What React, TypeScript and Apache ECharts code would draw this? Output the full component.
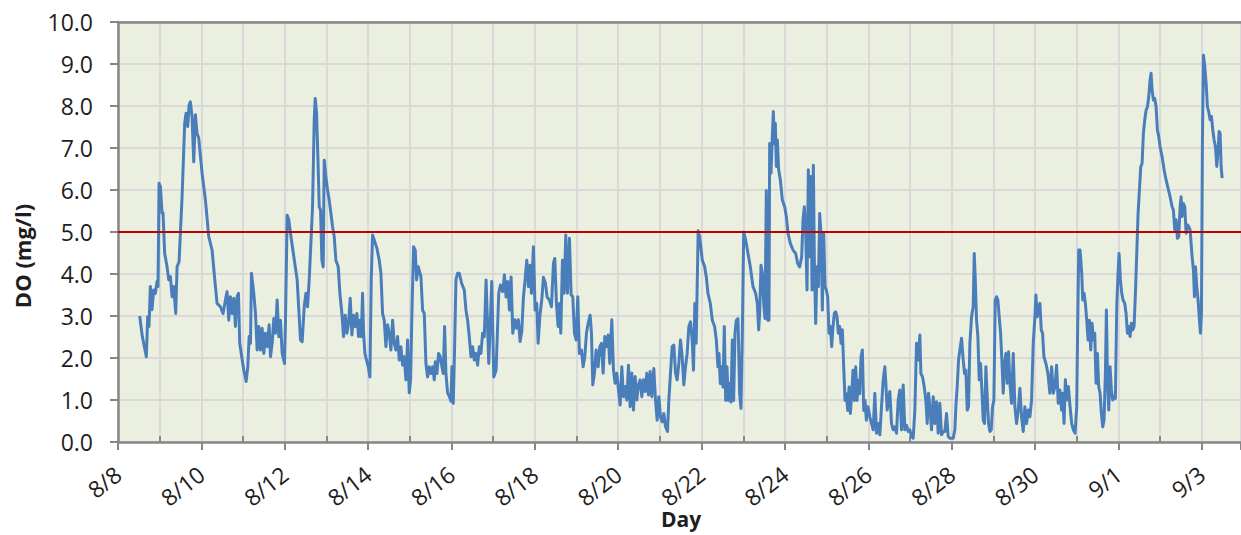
import React, { useEffect, useRef } from "react";
import * as echarts from "echarts";

// Tick labels for the x axis (every second day, starting 8/8)
const dayTickLabels = ["8/8", "8/10", "8/12", "8/14", "8/16", "8/18", "8/20", "8/22", "8/24", "8/26", "8/28", "8/30", "9/1", "9/3"];
const DO_STANDARD = 5.0;
const X_MAX_DAYS = 26.94;

// Readings: [days since 8/8 00:00, DO mg/l]
const readingsAug8to12: [number, number][] = [
  [0.52, 3.0], [0.584, 2.51], [0.68, 2.03], [0.712, 2.98], [0.744, 2.75], [0.776, 3.7], [0.816, 3.15], [0.857, 3.62],
  [0.897, 3.54], [0.936, 3.82], [0.96, 3.7], [0.985, 6.16], [1.017, 6.08], [1.057, 5.45], [1.08, 5.45], [1.12, 4.49],
  [1.177, 4.17], [1.217, 3.86], [1.257, 3.94], [1.297, 3.46], [1.337, 3.7], [1.385, 3.06], [1.417, 4.17], [1.465, 4.29],
  [1.537, 5.84], [1.6, 7.59], [1.633, 7.83], [1.673, 7.51], [1.705, 8.02], [1.737, 8.1], [1.777, 7.74], [1.817, 6.67],
  [1.857, 7.79], [1.897, 7.35], [1.937, 7.23], [2.017, 6.4], [2.097, 5.76], [2.177, 4.89], [2.257, 4.57], [2.337, 3.7],
  [2.377, 3.3], [2.457, 3.22], [2.52, 3.06], [2.577, 3.38], [2.617, 3.58], [2.657, 2.9], [2.697, 3.46], [2.737, 3.06],
  [2.777, 3.42], [2.817, 2.75], [2.857, 3.46], [2.89, 3.54], [2.92, 2.35], [2.962, 2.07], [3.018, 1.71], [3.074, 1.44],
  [3.114, 1.79], [3.146, 2.51], [3.178, 2.35], [3.202, 4.02], [3.258, 3.54], [3.298, 3.06], [3.338, 2.19], [3.378, 2.75],
  [3.418, 2.19], [3.458, 2.71], [3.498, 2.11], [3.538, 2.59], [3.578, 2.27], [3.626, 2.79], [3.658, 2.03], [3.698, 2.35],
  [3.738, 2.94], [3.778, 2.59], [3.818, 3.38], [3.858, 2.51], [3.898, 2.9], [3.938, 2.11], [3.994, 1.87], [4.018, 2.9],
  [4.058, 5.4], [4.098, 5.29], [4.138, 4.97], [4.218, 4.41], [4.298, 3.86], [4.338, 3.14], [4.378, 2.43], [4.418, 2.39],
];

const readingsAug12to17: [number, number][] = [
  [4.467, 3.22], [4.507, 3.54], [4.547, 3.22], [4.587, 3.86], [4.627, 4.73], [4.667, 5.6], [4.707, 7.67], [4.731, 8.18],
  [4.763, 7.83], [4.795, 6.79], [4.827, 5.6], [4.859, 5.52], [4.891, 4.33], [4.923, 4.17], [4.947, 6.71], [4.987, 6.32],
  [5.027, 6.0], [5.067, 5.76], [5.107, 5.45], [5.147, 5.13], [5.187, 4.89], [5.227, 4.33], [5.283, 4.17], [5.323, 3.54],
  [5.371, 3.06], [5.411, 2.51], [5.451, 3.02], [5.491, 2.59], [5.531, 2.83], [5.571, 3.42], [5.611, 2.55], [5.651, 3.02],
  [5.691, 2.75], [5.731, 3.06], [5.771, 2.51], [5.811, 2.9], [5.835, 2.51], [5.867, 3.54], [5.891, 2.59], [5.923, 2.11],
  [5.963, 1.95], [6.003, 1.79], [6.043, 1.55], [6.075, 3.86], [6.107, 4.93], [6.147, 4.81], [6.211, 4.61], [6.267, 4.33],
  [6.307, 4.02], [6.347, 3.06], [6.387, 2.9], [6.427, 2.27], [6.467, 2.79], [6.507, 2.59], [6.547, 2.19], [6.587, 2.9],
  [6.627, 2.35], [6.667, 2.19], [6.707, 2.51], [6.747, 1.95], [6.787, 2.27], [6.827, 1.83], [6.867, 2.03], [6.907, 1.48],
  [6.947, 2.43], [6.987, 1.17], [7.019, 1.48], [7.051, 3.06], [7.091, 4.65], [7.131, 4.57], [7.163, 3.86], [7.203, 4.17],
  [7.267, 3.94], [7.307, 3.14], [7.347, 3.06], [7.387, 1.87], [7.427, 1.55], [7.467, 1.79], [7.507, 1.63], [7.547, 1.79],
  [7.587, 1.48], [7.611, 1.91], [7.651, 1.63], [7.691, 2.11], [7.731, 2.03], [7.771, 1.79], [7.803, 1.63], [7.835, 2.75],
  [7.867, 1.63], [7.907, 1.17], [7.947, 1.09], [7.987, 0.97], [8.011, 1.79], [8.043, 0.92], [8.075, 2.27], [8.107, 3.86],
  [8.147, 4.02], [8.187, 4.02], [8.243, 3.78], [8.307, 3.62], [8.347, 3.14], [8.387, 2.9], [8.427, 2.51], [8.467, 2.03],
  [8.507, 2.27], [8.547, 1.95], [8.587, 2.11], [8.627, 1.83], [8.667, 2.27], [8.707, 2.11], [8.747, 2.59], [8.787, 2.51],
];

const readingsAug17to22: [number, number][] = [
  [8.83, 3.86], [8.894, 1.87], [8.966, 3.82], [9.014, 1.55], [9.07, 1.71], [9.134, 3.54], [9.174, 3.74], [9.23, 3.58],
  [9.27, 3.98], [9.31, 3.45], [9.35, 3.82], [9.39, 3.14], [9.43, 3.93], [9.47, 2.59], [9.526, 2.91], [9.566, 2.71],
  [9.606, 2.91], [9.646, 2.39], [9.686, 2.63], [9.726, 3.45], [9.766, 3.86], [9.806, 4.33], [9.846, 3.7], [9.886, 4.21],
  [9.918, 3.54], [9.966, 4.65], [10.006, 3.14], [10.046, 3.3], [10.078, 2.35], [10.126, 3.06], [10.166, 3.38], [10.206, 3.92],
  [10.254, 3.78], [10.294, 3.45], [10.35, 3.38], [10.398, 3.22], [10.446, 4.25], [10.478, 4.37], [10.518, 3.3], [10.558, 2.75],
  [10.59, 3.3], [10.622, 2.59], [10.662, 4.33], [10.702, 3.54], [10.742, 4.93], [10.782, 3.54], [10.83, 4.85], [10.87, 3.5],
  [10.91, 3.46], [10.95, 2.59], [10.99, 2.43], [11.03, 3.46], [11.07, 2.11], [11.118, 2.19], [11.158, 1.79], [11.198, 2.03],
  [11.238, 2.59], [11.278, 2.82], [11.326, 3.02], [11.358, 2.59], [11.39, 1.36], [11.43, 1.64], [11.47, 2.19], [11.518, 1.79],
  [11.558, 2.27], [11.598, 2.35], [11.638, 1.64], [11.678, 2.51], [11.718, 2.27], [11.758, 2.55], [11.798, 1.87], [11.846, 2.91],
  [11.886, 1.71], [11.926, 1.4], [11.966, 1.64], [12.006, 1.24], [12.046, 0.88], [12.086, 1.79], [12.126, 1.08], [12.166, 1.32],
  [12.206, 1.0], [12.246, 1.83], [12.286, 0.84], [12.326, 1.64], [12.366, 0.76], [12.406, 1.56], [12.446, 1.0], [12.486, 1.36],
  [12.526, 1.48], [12.566, 1.08], [12.606, 1.48], [12.646, 1.2], [12.686, 1.64], [12.726, 1.12], [12.766, 1.68], [12.806, 1.08],
  [12.854, 1.75], [12.894, 1.0], [12.934, 0.52], [12.974, 1.08], [13.014, 0.6], [13.054, 0.48], [13.094, 0.68], [13.134, 0.37],
  [13.182, 0.25], [13.214, 1.0], [13.254, 1.64], [13.294, 2.27], [13.334, 2.31], [13.374, 1.64], [13.414, 1.48], [13.454, 1.87],
  [13.494, 2.43], [13.534, 2.04], [13.574, 1.36], [13.614, 1.79], [13.654, 2.11], [13.694, 2.75], [13.734, 2.86], [13.774, 2.43],
  [13.806, 1.71], [13.838, 3.3], [13.87, 2.35], [13.918, 5.03],
];

const readingsAug22to26: [number, number][] = [
  [13.953, 4.89], [14.017, 4.33], [14.073, 4.17], [14.113, 3.93], [14.153, 3.54], [14.209, 3.3], [14.257, 2.9], [14.313, 2.75],
  [14.353, 2.43], [14.393, 1.79], [14.417, 2.11], [14.449, 1.39], [14.481, 1.79], [14.513, 1.31], [14.545, 2.75], [14.577, 0.99],
  [14.609, 1.79], [14.641, 0.99], [14.673, 1.39], [14.705, 0.95], [14.737, 2.43], [14.769, 0.99], [14.801, 2.59], [14.833, 2.9],
  [14.873, 2.94], [14.913, 1.15], [14.945, 0.8], [14.977, 2.59], [15.01, 5.0], [15.057, 4.81], [15.113, 4.49], [15.169, 4.17],
  [15.233, 3.7], [15.297, 3.54], [15.337, 3.3], [15.369, 2.67], [15.393, 3.06], [15.425, 4.21], [15.457, 4.02], [15.489, 3.3],
  [15.521, 2.94], [15.553, 5.99], [15.585, 2.9], [15.617, 2.9], [15.633, 7.11], [15.665, 6.4], [15.697, 7.27], [15.721, 7.87],
  [15.745, 7.11], [15.769, 7.59], [15.793, 6.56], [15.817, 7.19], [15.849, 6.48], [15.889, 6.24], [15.937, 5.76], [15.993, 5.6],
  [16.033, 5.37], [16.073, 4.97], [16.129, 4.73], [16.193, 4.57], [16.257, 4.49], [16.305, 4.25], [16.353, 4.17], [16.401, 4.41],
  [16.433, 5.29], [16.465, 5.6], [16.497, 4.97], [16.529, 3.62], [16.561, 6.48], [16.593, 4.41], [16.625, 6.32], [16.649, 3.62],
  [16.681, 6.59], [16.705, 4.33], [16.737, 2.82], [16.769, 4.17], [16.801, 3.7], [16.833, 5.44], [16.865, 4.97], [16.897, 3.14],
  [16.929, 4.97], [16.961, 3.7], [16.993, 3.62], [17.025, 3.46], [17.057, 2.59], [17.089, 2.75], [17.121, 2.27], [17.153, 2.75],
  [17.185, 3.06], [17.217, 3.1], [17.249, 2.98], [17.281, 2.59], [17.313, 2.75], [17.345, 2.35], [17.377, 2.67], [17.409, 1.79],
  [17.441, 0.99], [17.473, 1.15], [17.505, 0.75], [17.537, 1.31], [17.569, 0.68], [17.601, 1.15], [17.633, 1.71], [17.665, 0.99],
  [17.697, 1.79], [17.729, 0.99], [17.761, 1.47], [17.793, 1.15], [17.825, 2.03], [17.857, 2.19], [17.889, 0.75], [17.921, 0.99],
  [17.953, 0.52], [17.993, 0.84],
];

const readingsAug26to31: [number, number][] = [
  [18.036, 0.6], [18.116, 0.29], [18.156, 1.16], [18.196, 0.21], [18.236, 0.44], [18.276, 0.17], [18.316, 0.84], [18.356, 1.48],
  [18.396, 1.79], [18.42, 1.4], [18.452, 0.76], [18.484, 1.0], [18.516, 1.2], [18.556, 0.44], [18.596, 0.29], [18.636, 0.36],
  [18.676, 0.21], [18.716, 1.0], [18.756, 1.24], [18.796, 0.29], [18.836, 1.36], [18.876, 0.29], [18.916, 0.4], [18.956, 0.25],
  [18.996, 0.29], [19.036, 0.13], [19.076, 0.09], [19.116, 0.76], [19.156, 2.35], [19.196, 1.95], [19.236, 2.55], [19.26, 1.63],
  [19.3, 1.55], [19.34, 1.32], [19.38, 1.0], [19.412, 0.44], [19.444, 1.16], [19.476, 0.84], [19.516, 0.29], [19.556, 1.08],
  [19.596, 0.44], [19.636, 0.96], [19.676, 0.21], [19.716, 0.92], [19.756, 0.17], [19.796, 0.25], [19.836, 0.25], [19.876, 0.68],
  [19.916, 0.13], [19.956, 0.09], [20.036, 0.09], [20.076, 0.29], [20.1, 0.84], [20.132, 1.32], [20.164, 1.95], [20.196, 2.19],
  [20.236, 2.47], [20.276, 1.95], [20.308, 1.63], [20.34, 1.71], [20.372, 0.76], [20.404, 0.84], [20.436, 2.35], [20.476, 2.98],
  [20.516, 3.22], [20.54, 4.49], [20.564, 3.93], [20.596, 2.9], [20.628, 2.51], [20.66, 1.48], [20.692, 1.87], [20.724, 1.24],
  [20.756, 0.52], [20.788, 0.44], [20.82, 1.79], [20.852, 1.08], [20.884, 0.44], [20.916, 0.25], [20.948, 0.29], [20.98, 0.84],
  [21.012, 1.0], [21.044, 3.38], [21.076, 3.46], [21.108, 3.38], [21.14, 2.98], [21.172, 2.59], [21.204, 1.95], [21.236, 1.16],
  [21.268, 1.87], [21.3, 2.11], [21.332, 1.4], [21.364, 2.15], [21.396, 1.4], [21.436, 0.92], [21.476, 2.11], [21.516, 0.84],
  [21.556, 0.44], [21.596, 0.76], [21.636, 1.28], [21.676, 0.6], [21.716, 0.25], [21.756, 0.84], [21.796, 0.44], [21.836, 0.76],
  [21.876, 0.6], [21.916, 1.0], [21.956, 2.35], [21.996, 2.98], [22.02, 3.5], [22.052, 2.98], [22.084, 3.18], [22.116, 3.3],
  [22.148, 2.67], [22.18, 2.59], [22.212, 2.03], [22.26, 1.87], [22.308, 1.63], [22.356, 1.16], [22.396, 1.79], [22.436, 1.16],
  [22.476, 1.32], [22.516, 1.83], [22.556, 0.92], [22.596, 1.24], [22.636, 0.76],
];

const readingsAug31toSep3: [number, number][] = [
  [22.663, 1.16], [22.695, 0.44], [22.727, 1.48], [22.759, 1.0], [22.799, 1.32], [22.839, 0.84], [22.879, 0.44], [22.919, 0.29],
  [22.959, 0.21], [22.999, 0.84], [23.023, 2.83], [23.047, 4.57], [23.079, 4.57], [23.119, 4.02], [23.143, 3.38], [23.175, 3.54],
  [23.207, 3.3], [23.239, 2.9], [23.271, 2.43], [23.303, 2.9], [23.335, 2.19], [23.367, 2.83], [23.399, 2.43], [23.431, 2.59],
  [23.463, 1.4], [23.495, 2.11], [23.527, 1.32], [23.559, 1.16], [23.591, 0.68], [23.623, 0.36], [23.655, 0.52], [23.687, 1.64],
  [23.711, 3.14], [23.735, 1.64], [23.767, 0.76], [23.799, 1.79], [23.831, 1.24], [23.863, 1.0], [23.895, 1.08], [23.927, 1.04],
  [23.959, 3.22], [23.991, 4.02], [24.015, 4.49], [24.047, 3.86], [24.079, 3.54], [24.111, 3.38], [24.151, 3.3], [24.183, 3.06],
  [24.215, 2.59], [24.247, 2.75], [24.279, 2.51], [24.311, 2.83], [24.343, 2.67], [24.375, 2.75], [24.407, 3.54], [24.439, 4.49],
  [24.471, 5.44], [24.503, 6.0], [24.535, 6.55], [24.567, 6.63], [24.599, 7.35], [24.631, 7.67], [24.663, 7.9], [24.695, 7.98],
  [24.727, 8.22], [24.759, 8.62], [24.783, 8.78], [24.807, 8.38], [24.839, 8.14], [24.871, 8.18], [24.903, 7.98], [24.935, 7.43],
  [24.967, 7.27], [24.999, 7.03], [25.047, 6.79], [25.095, 6.48], [25.143, 6.24], [25.191, 6.04], [25.239, 5.84], [25.287, 5.6],
  [25.319, 5.52], [25.351, 5.05], [25.383, 5.29], [25.415, 4.85], [25.447, 4.89], [25.479, 5.6], [25.503, 5.84], [25.527, 5.37],
  [25.559, 5.68], [25.591, 5.6], [25.623, 4.97], [25.655, 5.17], [25.687, 5.13], [25.719, 5.05], [25.743, 4.73], [25.767, 4.41],
  [25.799, 4.1], [25.823, 3.46], [25.847, 4.17], [25.879, 3.7], [25.911, 3.38], [25.943, 2.9], [25.967, 2.59], [25.991, 3.06],
  [26.015, 7.19], [26.039, 9.21], [26.071, 8.94], [26.103, 8.54], [26.135, 7.98], [26.167, 7.86], [26.199, 7.67], [26.231, 7.75],
  [26.263, 7.43], [26.295, 7.19], [26.327, 7.03], [26.359, 6.56], [26.391, 6.95], [26.415, 7.39], [26.439, 7.35], [26.463, 6.56],
  [26.487, 6.28],
];

const FONT = '"Open Sans", "Noto Sans", sans-serif';
const AXIS_GREY = "#878787";
const GRID_GREY = "#D9D9D9";
const TEXT_COLOR = "#1E1E1E";

export default function App() {
  const ref = useRef<HTMLDivElement>(null);

  useEffect(() => {
    if (!ref.current) return;
    const chart = echarts.init(ref.current, undefined, { renderer: "svg" });
    const data = [
      ...readingsAug8to12,
      ...readingsAug12to17,
      ...readingsAug17to22,
      ...readingsAug22to26,
      ...readingsAug26to31,
      ...readingsAug31toSep3,
    ];
    chart.setOption({
      animation: false,
      textStyle: { fontFamily: FONT },
      grid: {
        left: 118,
        right: 0,
        top: 22,
        bottom: 93,
        show: true,
        backgroundColor: "#EBEFDF",
        borderWidth: 0,
      },
      xAxis: [
        {
          type: "value",
          min: 0,
          max: X_MAX_DAYS,
          interval: 2,
          axisLine: { show: true, onZero: false, lineStyle: { color: AXIS_GREY, width: 2.5 } },
          axisTick: { show: true, length: 8, lineStyle: { color: AXIS_GREY, width: 2 } },
          minorTick: { show: true, splitNumber: 2, length: -6, lineStyle: { color: AXIS_GREY, width: 2 } },
          splitLine: { show: true, lineStyle: { color: GRID_GREY, width: 2 } },
          minorSplitLine: { show: true, lineStyle: { color: GRID_GREY, width: 2 } },
          axisLabel: {
            rotate: 38,
            margin: 29,
            fontSize: 23,
            color: TEXT_COLOR,
            fontFamily: FONT,
            showMaxLabel: false,
            formatter: (v: number) => {
              if (Math.abs(v - Math.round(v)) > 1e-6) return "";
              const r = Math.round(v);
              if (r % 2 !== 0) return "";
              return dayTickLabels[r / 2] ?? "";
            },
          },
        },
        {
          type: "value",
          position: "top",
          min: 0,
          max: X_MAX_DAYS,
          axisLine: { show: true, onZero: false, lineStyle: { color: AXIS_GREY, width: 2.5 } },
          axisTick: { show: false },
          axisLabel: { show: false },
          splitLine: { show: false },
        },
      ],
      yAxis: {
        type: "value",
        min: 0,
        max: 10,
        interval: 1,
        axisLine: { show: true, onZero: false, lineStyle: { color: AXIS_GREY, width: 2.5 } },
        axisTick: { show: true, length: 8, lineStyle: { color: AXIS_GREY, width: 2 } },
        splitLine: { show: true, lineStyle: { color: GRID_GREY, width: 2 } },
        axisLabel: {
          margin: 25,
          fontSize: 23,
          color: TEXT_COLOR,
          fontFamily: FONT,
          formatter: (v: number) => v.toFixed(1),
        },
      },
      series: [
        {
          type: "line",
          xAxisIndex: 0,
          data,
          showSymbol: false,
          symbol: "none",
          lineStyle: { color: "#4A7EBB", width: 3, join: "round" },
          markLine: {
            silent: true,
            symbol: "none",
            label: { show: false },
            lineStyle: { color: "#C00000", width: 2.2, type: "solid" },
            data: [{ yAxis: DO_STANDARD }],
          },
        },
      ],
      graphic: [
        {
          type: "text",
          x: 22,
          y: 256,
          rotation: Math.PI / 2,
          style: {
            text: "DO (mg/l)",
            fontSize: 22,
            fontWeight: "bold",
            fontFamily: FONT,
            fill: TEXT_COLOR,
            align: "center",
            verticalAlign: "middle",
          },
        },
        {
          type: "text",
          x: 681,
          y: 519,
          style: {
            text: "Day",
            fontSize: 21,
            fontWeight: "bold",
            fontFamily: FONT,
            fill: TEXT_COLOR,
            align: "center",
            verticalAlign: "middle",
          },
        },
      ],
    });
    return () => chart.dispose();
  }, []);

  return (
    <div
      ref={ref}
      style={{ position: "fixed", left: 0, top: 0, width: 1241, height: 535, background: "#FFFFFF" }}
    />
  );
}
